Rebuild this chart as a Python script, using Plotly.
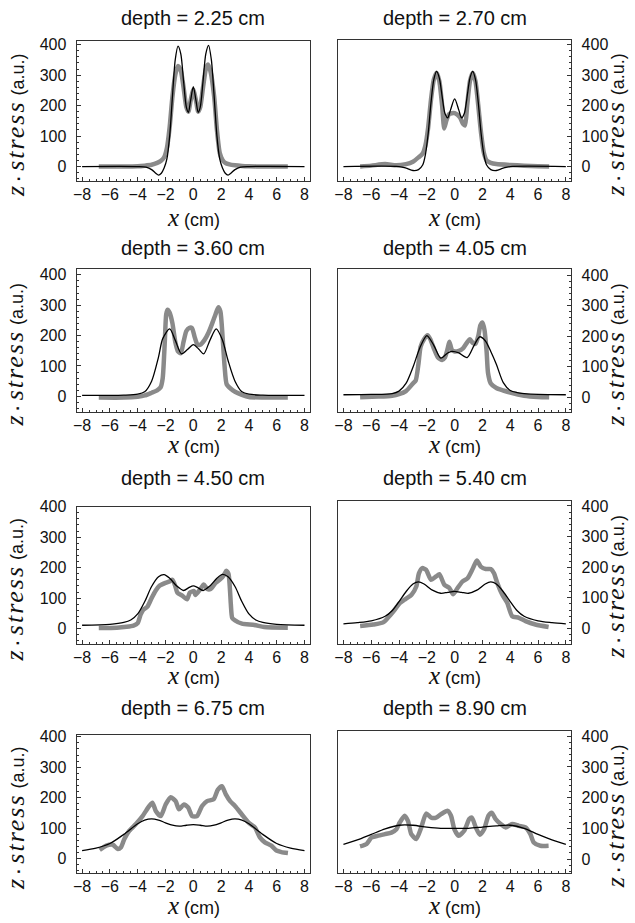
import plotly.graph_objects as go

# ---------------- data ----------------
depth_labels = ["2.25", "2.70", "3.60", "4.05", "4.50", "5.40", "6.75", "8.90"]

# theory (black line)
bx1 = [-8, -4, -3.4, -3.0, -2.7, -2.5, -2.3, -2.1, -1.9, -1.7, -1.5, -1.3, -1.1, -0.9, -0.7, -0.5, -0.35, -0.2, 0,
       0.2, 0.35, 0.5, 0.7, 0.9, 1.1, 1.3, 1.5, 1.7, 1.9, 2.1, 2.3, 2.5, 2.7, 3.0, 3.4, 4, 8]
by1 = [0, 0, -2, -10, -22, -28, -22, -5, 25, 100, 230, 350, 395, 370, 280, 195, 178, 215, 262,
       215, 178, 195, 280, 370, 398, 350, 230, 100, 25, -5, -22, -28, -22, -10, -2, 0, 0]
bx2 = [-8, -4, -3.5, -3, -2.6, -2.3, -2.1, -1.9, -1.7, -1.5, -1.3, -1.1, -0.9, -0.7, -0.5, -0.3, 0,
       0.3, 0.5, 0.7, 0.9, 1.1, 1.3, 1.5, 1.7, 1.9, 2.1, 2.3, 2.6, 3, 3.5, 4, 8]
by2 = [0, 0, -5, -13, -10, 5, 40, 110, 210, 285, 312, 290, 230, 175, 160, 185, 222,
       185, 160, 175, 230, 290, 312, 285, 210, 110, 40, 5, -10, -13, -5, 0, 0]
bx3 = [-8, -5, -4, -3.5, -3, -2.5, -2.2, -1.7, -1.3, -0.85, -0.4, 0, 0.4, 0.75, 1.2, 1.65, 2.1, 2.5, 3, 3.5, 4, 5, 8]
by3 = [3, 4, 7, 15, 50, 130, 190, 222, 185, 140, 155, 170, 155, 140, 185, 222, 185, 118, 50, 15, 7, 4, 3]
bx4 = [-8, -6, -4.5, -4, -3.5, -3, -2.5, -2, -1.5, -1, -0.5, -0.2, 0.3, 0.9, 1.4, 1.8, 2.2, 2.6, 3, 3.5, 4, 4.5, 5, 6, 8]
by4 = [8, 9, 12, 20, 45, 98, 162, 202, 170, 128, 145, 150, 145, 130, 170, 198, 185, 150, 108, 48, 22, 15, 12, 9, 8]
bx5 = [-8, -6, -5, -4.5, -4, -3.5, -3, -2.5, -2.1, -1.7, -1.2, -0.7, -0.3, 0, 0.3, 0.7, 1.2, 1.7, 2.1, 2.5, 3, 3.5,
       4, 4.5, 5, 6, 8]
by5 = [11, 14, 20, 28, 48, 88, 138, 170, 177, 165, 140, 125, 135, 140, 135, 125, 140, 165, 178, 170, 138, 88,
       48, 28, 20, 14, 11]
bx6 = [-8, -7, -6, -5, -4.5, -4, -3.5, -3, -2.6, -2.2, -1.6, -1, -0.5, 0, 0.5, 1, 1.6, 2.2, 2.6, 3, 3.5, 4, 4.5, 5,
       6, 7, 8]
by6 = [15, 19, 25, 40, 58, 88, 120, 145, 152, 145, 125, 115, 118, 121, 118, 115, 125, 145, 152, 145, 120, 88, 58, 40,
       25, 19, 15]
bx7 = [-8, -7, -6, -5, -4, -3.5, -3, -2.5, -2, -1.5, -1, -0.5, 0, 0.5, 1, 1.5, 2, 2.5, 3, 3.5, 4, 5, 6, 7, 8]
by7 = [27, 35, 50, 80, 115, 127, 131, 127, 118, 110, 107, 110, 112, 110, 107, 110, 118, 127, 131, 127, 115, 80, 50,
       35, 27]
bx8 = [-8, -7, -6, -5, -4, -3, -2, -1, 0, 1, 2, 3, 4, 5, 6, 7, 8]
by8 = [48, 62, 80, 98, 110, 110, 104, 100, 100, 100, 104, 108, 110, 100, 80, 62, 48]

# measurement (grey dots)
gx1 = [-6.8, -5, -4, -3.5, -3, -2.6, -2.3, -2.1, -1.9, -1.7, -1.5, -1.3, -1.1, -0.9, -0.7, -0.5, -0.35, -0.2, 0,
       0.2, 0.35, 0.5, 0.7, 0.9, 1.05, 1.25, 1.5, 1.7, 1.9, 2.1, 2.3, 2.6, 3, 3.5, 4, 5, 6.8]
gy1 = [0, 0, 1, 3, 6, 12, 20, 30, 60, 130, 230, 300, 330, 315, 260, 195, 180, 215, 252,
       215, 180, 195, 260, 320, 335, 310, 230, 120, 45, 22, 12, 7, 4, 2, 1, 0, 0]
gx2 = [-6.8, -6, -5, -4.2, -3.5, -3, -2.6, -2.3, -2.1, -1.9, -1.7, -1.5, -1.3, -1.1, -0.9, -0.75, -0.6, -0.4, -0.2,
       0, 0.2, 0.4, 0.6, 0.75, 0.9, 1.1, 1.3, 1.5, 1.7, 1.9, 2.1, 2.3, 2.6, 3, 4, 5, 6, 6.8]
gy2 = [0, 3, 8, 4, 8, 16, 30, 43, 70, 130, 220, 285, 308, 280, 200, 125, 150, 172, 175,
       175, 170, 160, 140, 135, 200, 280, 308, 280, 200, 110, 45, 20, 12, 8, 5, 3, 1, 0]
gx3 = [-6.8, -5, -4, -3.5, -3, -2.6, -2.35, -2.2, -2.05, -1.95, -1.85, -1.7, -1.5, -1.3, -1.1, -0.9, -0.7, -0.5,
       -0.3, -0.1, 0.1, 0.3, 0.5, 0.8, 1.1, 1.4, 1.6, 1.8, 1.95, 2.1, 2.25, 2.4, 2.7, 3, 3.5, 4, 5, 6.8]
gy3 = [-4, -4, -1, 3, 12, 20, 30, 60, 180, 270, 285, 275, 240, 180, 148, 142, 180, 215,
       225, 225, 195, 170, 170, 185, 210, 245, 270, 293, 280, 200, 100, 40, 25, 15, 5, -2, -4, -4]
gx4 = [-6.8, -5.5, -4.5, -4, -3.5, -3.0, -2.8, -2.6, -2.45, -2.2, -1.95, -1.75, -1.5, -1.2, -0.9, -0.7, -0.5,
       -0.38, -0.2, 0, 0.3, 0.6, 0.9, 1.1, 1.3, 1.5, 1.7, 1.85, 2.0, 2.15, 2.3, 2.4, 2.6, 3.0, 3.5, 4, 5, 6, 6.8]
gy4 = [0, 2, 5, 10, 20, 45, 55, 110, 165, 190, 203, 190, 160, 130, 122, 130, 160,
       182, 155, 150, 152, 160, 180, 190, 178, 175, 200, 235, 245, 220, 150, 80, 45, 30, 22, 15, 5, 1, 0]
gx5 = [-6.8, -5.5, -4.8, -4.3, -4.0, -3.8, -3.6, -3.3, -3.0, -2.7, -2.45, -2.0, -1.7, -1.5, -1.3, -1.15, -0.8,
       -0.45, -0.25, 0.05, 0.15, 0.5, 0.75, 1.0, 1.25, 1.6, 1.95, 2.2, 2.37, 2.53, 2.62, 2.7, 2.8, 3.0, 3.5, 4.4,
       5.1, 6.8]
gy5 = [2, 3, 6, 10, 18, 45, 62, 72, 100, 125, 140, 150, 155, 160, 140, 118, 108,
       96, 118, 123, 110, 129, 145, 130, 130, 150, 162, 175, 190, 180, 140, 80, 35, 27, 16, 12,
       5, 3]
gx6 = [-6.8, -5.86, -5.14, -4.8, -4.3, -3.95, -3.6, -3.1, -2.76, -2.57, -2.33, -2.05, -1.7, -1.33, -1.1, -0.74,
       -0.38, -0.1, 0.21, 0.57, 0.93, 1.29, 1.6, 1.88, 2.24, 2.6, 2.83, 3.07, 3.43, 3.79, 4.14, 4.62, 5.1, 5.81, 6.76]
gy6 = [8, 13, 20, 35, 62, 83, 94, 110, 137, 180, 197, 191, 159, 170, 177, 143,
       132, 112, 132, 154, 164, 194, 222, 202, 194, 194, 180, 148, 110, 83, 40, 35, 24, 13, 5]
gx7 = [-6.74, -6.26, -5.79, -5.43, -5.2, -4.96, -4.6, -4.13, -3.65, -3.17, -2.94, -2.7, -2.34, -1.99, -1.63,
       -1.27, -1.03, -0.68, -0.37, -0.08, 0.27, 0.63, 0.99, 1.46, 1.77, 2.06, 2.34, 2.65, 3.0, 3.48, 3.96, 4.43,
       4.79, 5.15, 5.62, 5.98, 6.34, 6.81]
gy7 = [29, 43, 46, 32, 38, 65, 92, 114, 140, 173, 184, 157, 140, 178, 202,
       189, 162, 178, 168, 140, 140, 173, 189, 195, 227, 238, 211, 189, 173, 146, 119, 103,
       70, 54, 43, 27, 22, 19]
gx8 = [-6.81, -6.33, -5.98, -5.5, -5.02, -4.55, -4.19, -3.95, -3.6, -3.36, -3.12, -2.76, -2.4, -2.05, -1.69,
       -1.33, -0.98, -0.5, -0.26, -0.02, 0.29, 0.69, 1.05, 1.24, 1.52, 1.81, 2.12, 2.43, 2.67, 2.95, 3.31, 3.67,
       4.14, 4.62, 5.1, 5.45, 5.69, 6.17, 6.76]
gy8 = [41, 49, 70, 76, 81, 86, 97, 119, 141, 124, 81, 65, 103, 148, 135,
       135, 146, 157, 141, 97, 76, 92, 130, 135, 103, 79, 97, 141, 151, 130, 114, 103,
       114, 108, 103, 81, 54, 43, 43]

theory_x = [bx1, bx2, bx3, bx4, bx5, bx6, bx7, bx8]
theory_y = [by1, by2, by3, by4, by5, by6, by7, by8]
meas_x = [gx1, gx2, gx3, gx4, gx5, gx6, gx7, gx8]
meas_y = [gy1, gy2, gy3, gy4, gy5, gy6, gy7, gy8]

x_ticks = [-8, -6, -4, -2, 0, 2, 4, 6, 8]
y_ticks = [0, 100, 200, 300, 400]

# ---------------- layout geometry (pixels) ----------------
W, H = 635, 923
col_px = [(73, 308), (336, 571)]
panel_tb = [(33, 175), (32, 175), (263, 408), (263, 408), (503, 642), (497, 642), (733, 873), (729, 873)]
panel_yr = [(-49, 413), (-49, 416), (-53, 420), (-50, 421), (-52, 400), (-52, 417), (-48, 407), (-47, 418)]
title_px = [10, 242, 474, 706]
xtitle_px = [211, 440, 673, 905]
ytitle_x = [11, 615]

def px_x(p):
    return p / W

def px_y(p):
    return 1 - p / H

SANS = "Liberation Sans, Arial, Helvetica, sans-serif"
SERIF = "Liberation Serif, Times New Roman, serif"
GREY = "#8a8a8a"

fig = go.Figure()
annotations = []
layout = {}

ytitle_text = (f"<span style='font-family:{SERIF};font-style:italic;font-size:26px'>z</span>"
               f"<span style='font-size:17px'> <b>·</b> </span>"
               f"<span style='font-family:{SERIF};font-style:italic;font-size:26px;letter-spacing:2px'>stress</span>"
               f"<span style='font-size:18px'> (a.u.)</span>")
xtitle_text = (f"<span style='font-family:{SERIF};font-style:italic;font-size:25px'>x</span>"
               f"<span style='font-size:18px'> (cm)</span>")

for i in range(8):
    r, c = divmod(i, 2)
    n = i + 1
    xa = "x" if n == 1 else f"x{n}"
    ya = "y" if n == 1 else f"y{n}"
    fig.add_trace(go.Scatter(x=meas_x[i], y=meas_y[i], mode="lines",
                             line=dict(color=GREY, width=4.5, shape="spline", smoothing=0.6),
                             xaxis=xa, yaxis=ya, showlegend=False, hoverinfo="skip"))
    fig.add_trace(go.Scatter(x=theory_x[i], y=theory_y[i], mode="lines",
                             line=dict(color="black", width=1.3, shape="spline", smoothing=0.8),
                             xaxis=xa, yaxis=ya, showlegend=False, hoverinfo="skip"))
    x0, x1 = col_px[c]
    t, b = panel_tb[i]
    xd = [px_x(x0), px_x(x1)]
    yd = [px_y(b), px_y(t)]
    layout[f"xaxis{'' if n == 1 else n}"] = dict(
        domain=xd, anchor=ya, range=[-8.4, 8.4], tickvals=x_ticks,
        ticks="inside", ticklen=4, tickwidth=1, tickcolor="#333",
        minor=dict(ticks="inside", ticklen=2, dtick=0.5, tickcolor="#333", tick0=0),
        showline=True, linecolor="#333", linewidth=1, mirror=True,
        showgrid=False, zeroline=False, ticklabelstandoff=-2,
        tickfont=dict(family=SANS, size=16, color="#111"),
    )
    layout[f"yaxis{'' if n == 1 else n}"] = dict(
        domain=yd, anchor=xa, range=list(panel_yr[i]), tickvals=y_ticks,
        side="left" if c == 0 else "right",
        ticks="inside", ticklen=4, tickwidth=1, tickcolor="#333",
        minor=dict(ticks="inside", ticklen=2, dtick=20, tickcolor="#333", tick0=0),
        showline=True, linecolor="#333", linewidth=1, mirror=True,
        showgrid=False, zeroline=False, ticklabelstandoff=6,
        tickfont=dict(family=SANS, size=16, color="#111"),
    )
    xc = (xd[0] + xd[1]) / 2
    # panel title
    annotations.append(dict(text=f"depth = {depth_labels[i]} cm", x=xc, y=px_y(title_px[r]),
                            xref="paper", yref="paper", xanchor="center", yanchor="middle", showarrow=False,
                            font=dict(family=SANS, size=20, color="#111")))
    # x axis title
    annotations.append(dict(text=xtitle_text, x=xc, y=px_y(xtitle_px[r]), xref="paper", yref="paper",
                            xanchor="center", yanchor="middle", showarrow=False,
                            font=dict(family=SANS, size=18, color="#111")))
    # y axis title
    yc = (yd[0] + yd[1]) / 2
    annotations.append(dict(text=ytitle_text,
                            x=px_x(ytitle_x[c]), y=yc, xref="paper", yref="paper", textangle=-90,
                            xanchor="center", yanchor="middle", yshift=-14, showarrow=False,
                            font=dict(family=SANS, size=18, color="#111")))

fig.update_layout(**layout)
fig.update_layout(width=W, height=H, margin=dict(l=0, r=0, t=0, b=0),
                  paper_bgcolor="white", plot_bgcolor="white",
                  annotations=annotations)

fig.write_html("out.html", config={"displayModeBar": False},
               post_script="document.body.style.margin='0';")
